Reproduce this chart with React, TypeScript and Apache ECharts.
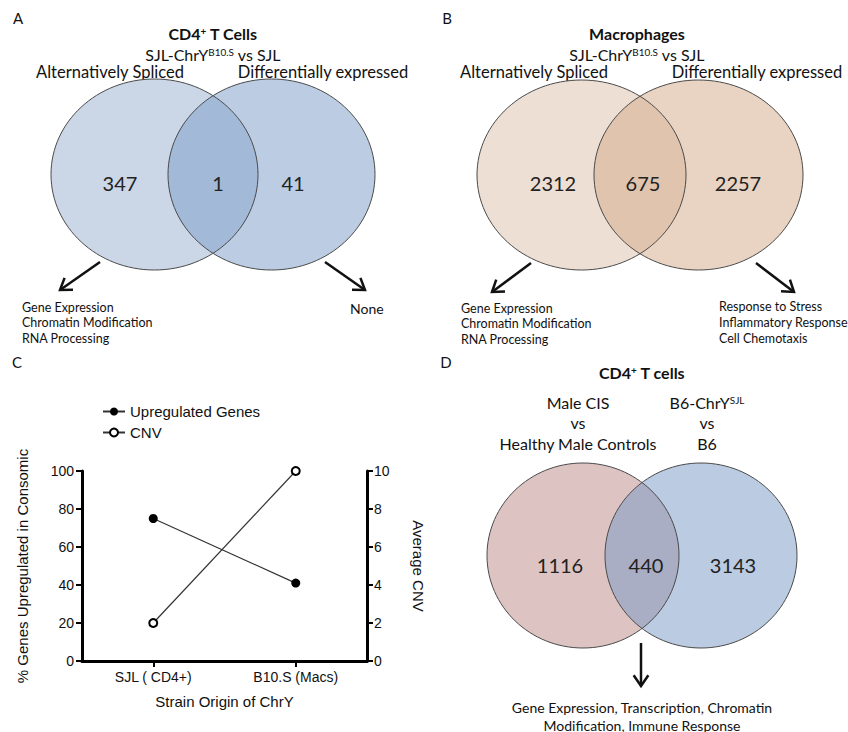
import React, { useEffect, useRef } from "react";
import * as echarts from "echarts";

// ---------- data ----------
const setLabelsAB = ["Alternatively Spliced", "Differentially expressed"];
const vennCountsA = [347, 1, 41];
const vennCountsB = [2312, 675, 2257];
const vennCountsD = [1116, 440, 3143];
const setLabelsD_left = ["Male CIS", "vs", "Healthy Male Controls"];
const setLabelsD_right = ["{n|B6-ChrY}{s|SJL}", "vs", "B6"];
const termsA_left = ["Gene Expression", "Chromatin Modification", "RNA Processing"];
const termsA_right = ["None"];
const termsB_left = ["Gene Expression", "Chromatin Modification", "RNA Processing"];
const termsB_right = ["Response to Stress", "Inflammatory Response", "Cell Chemotaxis"];
const termsD = ["Gene Expression, Transcription, Chromatin", "Modification, Immune Response"];
const strainCategories = ["SJL ( CD4+)", "B10.S (Macs)"];
const upregulatedGenesPct = [75, 41];
const averageCNV = [2, 10];
const seriesNames = ["Upregulated Genes", "CNV"];

const FONT = "Lato";
const ARIAL = "Liberation Sans";

type Venn = {
  cx1: number; cx2: number; cy: number; rx: number; ry: number;
  c1: string; c2: string; counts: number[]; numY: number; numX: number[];
};

function txt(x: number, y: number, text: string, o: any = {}): any {
  return {
    type: "text",
    x,
    y,
    style: {
      text,
      fontFamily: o.fontFamily || FONT,
      fontSize: o.fontSize || 16,
      fontWeight: o.fontWeight || "normal",
      fill: o.fill || "#111",
      align: o.align || "center",
      verticalAlign: "middle",
      rich: o.rich,
    },
  };
}

function vennGraphics(v: Venn): any[] {
  const out: any[] = [];
  out.push({ type: "ellipse", shape: { cx: v.cx1, cy: v.cy, rx: v.rx, ry: v.ry }, style: { fill: v.c1, stroke: "none" } });
  out.push({ type: "ellipse", shape: { cx: v.cx2, cy: v.cy, rx: v.rx, ry: v.ry }, style: { fill: v.c2, stroke: "none" } });
  out.push({ type: "ellipse", shape: { cx: v.cx1, cy: v.cy, rx: v.rx, ry: v.ry }, style: { fill: "none", stroke: "#4a4a4a", lineWidth: 1 } });
  out.push({ type: "ellipse", shape: { cx: v.cx2, cy: v.cy, rx: v.rx, ry: v.ry }, style: { fill: "none", stroke: "#4a4a4a", lineWidth: 1 } });
  v.counts.forEach((c, i) => {
    out.push(txt(v.numX[i], v.numY, String(c), { fontSize: 20, fill: "#222" }));
  });
  return out;
}

function arrow(x1: number, y1: number, x2: number, y2: number): any[] {
  const a = Math.atan2(y2 - y1, x2 - x1);
  const h = 13;
  const t = 0.6;
  const p1 = [x2 + h * Math.cos(a + Math.PI - t), y2 + h * Math.sin(a + Math.PI - t)];
  const p2 = [x2 + h * Math.cos(a + Math.PI + t), y2 + h * Math.sin(a + Math.PI + t)];
  return [
    { type: "line", shape: { x1, y1, x2, y2 }, style: { stroke: "#111", lineWidth: 2.5 } },
    { type: "polyline", shape: { points: [p1, [x2, y2], p2] }, style: { stroke: "#111", lineWidth: 2.5, fill: "none" } },
  ];
}

function lines(x: number, y0: number, step: number, arr: string[], o: any): any[] {
  return arr.map((s, i) => txt(x, y0 + i * step, s, o));
}

const supRich = (size: number, weight = "normal") => ({
  n: { fontSize: size, fontFamily: FONT, fontWeight: weight, fill: "#111", lineHeight: size - 1 },
  s: { fontSize: size * 0.62, fontFamily: FONT, fontWeight: weight, fill: "#111", lineHeight: size * 0.62, verticalAlign: "top" },
});

export default function App() {
  const ref = useRef<HTMLDivElement>(null);
  useEffect(() => {
    if (!ref.current) return;
    const chart = echarts.init(ref.current, undefined, { renderer: "svg" });

    const g: any[] = [];
    // panel letters
    g.push(txt(18, 18, "A", { fontSize: 15 }));
    g.push(txt(447, 18, "B", { fontSize: 15 }));
    g.push(txt(17, 362, "C", { fontSize: 15 }));
    g.push(txt(446, 362, "D", { fontSize: 15 }));

    // ---- Panel A ----
    g.push(txt(213, 33, "{n|CD4}{s|+}{n| T Cells}", { rich: supRich(16, "bold") }));
    g.push(txt(213, 54, "{n|SJL-ChrY}{s|B10.S}{n| vs SJL}", { rich: supRich(16) }));
    g.push(txt(110, 72, setLabelsAB[0], { fontSize: 16.5 }));
    g.push(txt(323, 72, setLabelsAB[1], { fontSize: 16.5 }));
    g.push(...vennGraphics({ cx1: 154.5, cx2: 271.5, cy: 174.5, rx: 103.5, ry: 95.5, c1: "#cbd7e7", c2: "rgba(121,155,199,0.5)", counts: vennCountsA, numY: 183, numX: [120, 218, 293] }));
    g.push(...arrow(100, 262, 60, 290));
    g.push(...arrow(325, 262, 365, 290));
    g.push(...lines(22, 307, 15.5, termsA_left, { fontSize: 12.5, align: "left" }));
    g.push(...lines(350, 308, 15.5, termsA_right, { fontSize: 14, align: "left" }));

    // ---- Panel B ----
    g.push(txt(637, 33, "Macrophages", { fontSize: 16, fontWeight: "bold" }));
    g.push(txt(637, 54, "{n|SJL-ChrY}{s|B10.S}{n| vs SJL}", { rich: supRich(16) }));
    g.push(txt(534, 72, setLabelsAB[0], { fontSize: 16.5 }));
    g.push(txt(757, 72, setLabelsAB[1], { fontSize: 16.5 }));
    g.push(...vennGraphics({ cx1: 581.5, cx2: 698.5, cy: 175, rx: 104.5, ry: 95, c1: "#eddfd4", c2: "rgba(211,169,135,0.5)", counts: vennCountsB, numY: 183, numX: [553, 643, 738] }));
    g.push(...arrow(531, 263, 492, 292));
    g.push(...arrow(756, 263, 794, 292));
    g.push(...lines(461, 308, 15.5, termsB_left, { fontSize: 12.5, align: "left" }));
    g.push(...lines(719, 306, 16, termsB_right, { fontSize: 12.5, align: "left" }));

    // ---- Panel D ----
    g.push(txt(642, 372, "{n|CD4}{s|+}{n| T cells}", { rich: supRich(16, "bold") }));
    g.push(...lines(578, 402, 20.5, setLabelsD_left, { fontSize: 16 }));
    setLabelsD_right.forEach((s, i) => {
      g.push(txt(707, 402 + i * 20.5, s, i === 0 ? { rich: supRich(16) } : { fontSize: 16 }));
    });
    g.push(...vennGraphics({ cx1: 583, cx2: 701, cy: 555.5, rx: 96, ry: 92.5, c1: "#ddc4c3", c2: "rgba(117,151,197,0.5)", counts: vennCountsD, numY: 565, numX: [560, 646, 733] }));
    g.push(...arrow(641, 643, 641, 686));
    g.push(...lines(642, 707, 18, termsD, { fontSize: 14 }));

    const axisCommon = {
      axisLine: { show: true, lineStyle: { color: "#000", width: 3 } },
      axisTick: { show: true, length: 6, lineStyle: { color: "#000", width: 2 } },
      splitLine: { show: false },
    };

    chart.setOption({
      animation: false,
      backgroundColor: "#fff",
      grid: { left: 82, right: 481, top: 471, bottom: 71, containLabel: false },
      legend: {
        orient: "vertical",
        left: 97,
        top: 399,
        itemWidth: 22,
        itemHeight: 10,
        itemGap: 6,
        data: seriesNames,
        textStyle: { fontFamily: ARIAL, fontSize: 15, color: "#111" },
      },
      xAxis: {
        type: "category",
        data: strainCategories,
        ...axisCommon,
        axisTick: { show: true, alignWithLabel: true, length: 6, lineStyle: { color: "#000", width: 2 } },
        axisLabel: { fontFamily: ARIAL, fontSize: 14, color: "#111", margin: 9 },
        name: "Strain Origin of ChrY",
        nameLocation: "middle",
        nameGap: 33,
        nameTextStyle: { fontFamily: ARIAL, fontSize: 15, color: "#111" },
      },
      yAxis: [
        {
          type: "value",
          min: 0,
          max: 100,
          interval: 20,
          position: "left",
          ...axisCommon,
          axisLabel: { fontFamily: ARIAL, fontSize: 14, color: "#111", margin: 8 },
          name: "% Genes Upregulated in Consomic",
          nameLocation: "middle",
          nameGap: 52,
          nameTextStyle: { fontFamily: ARIAL, fontSize: 15, color: "#111" },
        },
        {
          type: "value",
          min: 0,
          max: 10,
          interval: 2,
          position: "right",
          ...axisCommon,
          axisLabel: { fontFamily: ARIAL, fontSize: 14, color: "#111", margin: 7 },
          name: "Average CNV",
          nameLocation: "middle",
          nameRotate: -90,
          nameGap: 44,
          nameTextStyle: { fontFamily: ARIAL, fontSize: 15, color: "#111" },
        },
      ],
      series: [
        {
          name: seriesNames[0],
          type: "line",
          yAxisIndex: 0,
          data: upregulatedGenesPct,
          symbol: "circle",
          symbolSize: 9,
          itemStyle: { color: "#000" },
          lineStyle: { color: "#333", width: 1.2 },
        },
        {
          name: seriesNames[1],
          type: "line",
          yAxisIndex: 1,
          data: averageCNV,
          symbol: "emptyCircle",
          symbolSize: 8,
          itemStyle: { color: "#000", borderColor: "#000", borderWidth: 2 },
          lineStyle: { color: "#333", width: 1.2 },
        },
      ],
      graphic: { elements: g },
    });
    return () => chart.dispose();
  }, []);
  return <div ref={ref} style={{ position: "fixed", left: 0, top: 0, width: 848, height: 732, background: "#fff" }} />;
}
